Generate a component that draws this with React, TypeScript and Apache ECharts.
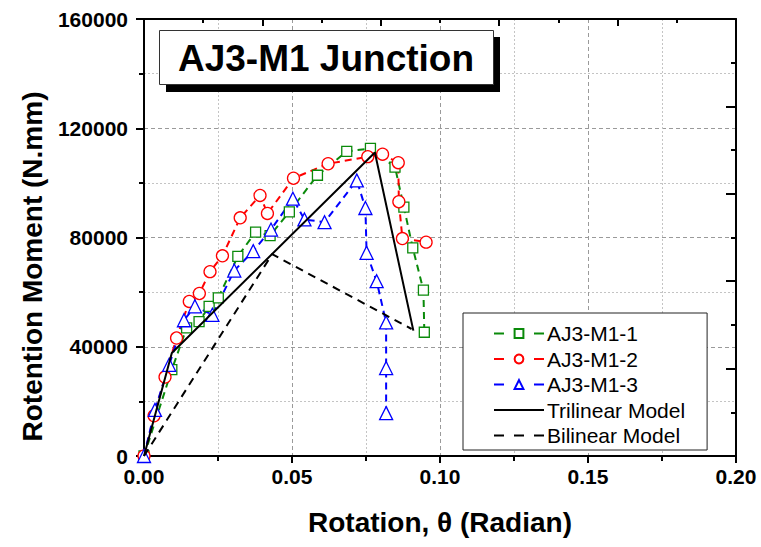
import { useEffect, useRef } from "react";
import * as echarts from "echarts";

// AJ3-M1-1 (green squares)
const m1X = [0, 0.0094, 0.0144, 0.0186, 0.022, 0.0251, 0.0317, 0.0377, 0.0426, 0.0491, 0.0586, 0.0685, 0.0765, 0.0848, 0.0878, 0.0908, 0.0944, 0.0947];
const m1Y = [0, 31600, 46900, 49200, 54800, 57900, 73100, 82000, 80700, 89400, 102800, 111500, 112600, 105800, 91100, 76200, 60700, 45300];
// AJ3-M1-2 (red circles)
const m2X = [0, 0.0034, 0.0071, 0.011, 0.0153, 0.0187, 0.0223, 0.0265, 0.0325, 0.0392, 0.0417, 0.0505, 0.0622, 0.0756, 0.0806, 0.0859, 0.0861, 0.0873, 0.0953];
const m2Y = [0, 14700, 28900, 43200, 56600, 59500, 67500, 73300, 87200, 95400, 88800, 101700, 107000, 109600, 110500, 107400, 93100, 79600, 78300];
// AJ3-M1-3 (blue triangles)
const m3X = [0, 0.0037, 0.0085, 0.0135, 0.0172, 0.0231, 0.0305, 0.0369, 0.0429, 0.0503, 0.0542, 0.061, 0.0719, 0.0748, 0.0752, 0.0786, 0.0818, 0.0818, 0.0818];
const m3Y = [0, 16900, 33400, 49700, 54800, 51700, 67900, 75000, 82900, 94200, 86600, 85600, 100900, 90800, 74400, 64000, 48900, 32200, 15700];
// Trilinear model
const triX = [0, 0.0094, 0.078, 0.091];
const triY = [0, 37700, 111100, 45900];
// Bilinear model
const biX = [0, 0.0433, 0.0904];
const biY = [0, 73900, 46500];

const seriesNames = ["AJ3-M1-1", "AJ3-M1-2", "AJ3-M1-3", "Trilinear Model", "Bilinear Model"];
const chartTitle = "AJ3-M1 Junction";
const xName = "Rotation, θ (Radian)";
const yName = "Rotention Moment (N.mm)";

const zip = (xs: number[], ys: number[]) => xs.map((x, i) => [x, ys[i]]);

const FONT = "'Liberation Sans', Arial, sans-serif";

export default function App() {
  const ref = useRef<HTMLDivElement>(null);
  useEffect(() => {
    if (!ref.current) return;
    const chart = echarts.init(ref.current, null, { renderer: "svg" });
    const majorSplit = { show: true, lineStyle: { color: "#9a9a9a", width: 1, type: [4, 3] } };
    const minorSplit = { show: true, lineStyle: { color: "#c4c4c4", width: 1, type: [2, 2] } };
    const axisLine = { show: true, onZero: false, lineStyle: { color: "#000", width: 2 } };
    const labelStyle = { color: "#000", fontSize: 21, fontWeight: "bold" as const, fontFamily: FONT };
    const nameStyle = { color: "#000", fontSize: 28, fontWeight: "bold" as const, fontFamily: FONT };
    const mkPts = (name: string, xs: number[], ys: number[], color: string, symbol: string, size: number) => ({
      name,
      type: "line",
      data: zip(xs, ys),
      symbol,
      symbolSize: size,
      showSymbol: true,
      lineStyle: { color, width: 2, type: [7, 5] },
      itemStyle: { color: "#fff", borderColor: color, borderWidth: 1.3 },
      z: 3,
    });
    chart.setOption({
      animation: false,
      backgroundColor: "#fff",
      grid: { left: 144, right: 25, top: 19, bottom: 91, containLabel: false },
      xAxis: [
        {
          type: "value",
          min: 0,
          max: 0.2,
          interval: 0.05,
          name: xName,
          nameLocation: "middle",
          nameGap: 52,
          nameTextStyle: nameStyle,
          axisLine,
          axisTick: { show: true, inside: false, length: 7, lineStyle: { color: "#000", width: 2 } },
          minorTick: { show: true, splitNumber: 2, length: 5, lineStyle: { color: "#000", width: 2 } },
          axisLabel: { ...labelStyle, margin: 10, formatter: (v: number) => v.toFixed(2) },
          splitLine: majorSplit,
          minorSplitLine: minorSplit,
        },
        {
          type: "value",
          position: "top",
          min: 0,
          max: 0.2,
          interval: 0.04,
          axisLine,
          axisTick: { show: true, inside: true, length: 7, lineStyle: { color: "#000", width: 2 } },
          minorTick: { show: true, splitNumber: 2, length: 4, lineStyle: { color: "#000", width: 2 } },
          axisLabel: { show: false },
          splitLine: { show: false },
        },
      ],
      yAxis: [
        {
          type: "value",
          min: 0,
          max: 160000,
          interval: 40000,
          name: yName,
          nameLocation: "middle",
          nameGap: 98,
          nameTextStyle: { ...nameStyle, padding: [0, 58, 0, 0] },
          axisLine,
          axisTick: { show: true, inside: false, length: 8, lineStyle: { color: "#000", width: 2 } },
          minorTick: { show: true, splitNumber: 2, length: 5, lineStyle: { color: "#000", width: 2 } },
          axisLabel: { ...labelStyle, margin: 16, formatter: (v: number) => String(v) },
          splitLine: majorSplit,
          minorSplitLine: minorSplit,
        },
        {
          type: "value",
          position: "right",
          min: 0,
          max: 160000,
          interval: 32000,
          axisLine,
          axisTick: { show: true, inside: true, length: 10, lineStyle: { color: "#000", width: 2 } },
          minorTick: { show: true, splitNumber: 2, length: 5, lineStyle: { color: "#000", width: 2 } },
          axisLabel: { show: false },
          splitLine: { show: false },
        },
      ],
      legend: {
        orient: "vertical",
        left: 463,
        top: 313,
        padding: [10, 22, 4, 30],
        itemGap: 4.5,
        itemWidth: 50,
        itemHeight: 11,
        backgroundColor: "#fff",
        borderColor: "#222",
        borderWidth: 1,
        borderRadius: 0,
        textStyle: { color: "#000", fontSize: 21, fontFamily: FONT, padding: [0, 0, 0, -2] },
        data: [
          { name: seriesNames[0], lineStyle: { type: [10, 30] } },
          { name: seriesNames[1], lineStyle: { type: [10, 30] } },
          { name: seriesNames[2], lineStyle: { type: [10, 30] } },
          { name: seriesNames[3], itemStyle: { opacity: 0 } },
          { name: seriesNames[4], itemStyle: { opacity: 0 }, lineStyle: { type: [10, 10] } },
        ],
      },
      series: [
        mkPts(seriesNames[0], m1X, m1Y, "#0a8a0a", "rect", 10),
        mkPts(seriesNames[1], m2X, m2Y, "#ff0000", "circle", 12),
        mkPts(seriesNames[2], m3X, m3Y, "#0000ff", "triangle", 13),
        {
          name: seriesNames[3],
          type: "line",
          data: zip(triX, triY),
          symbol: "none",
          lineStyle: { color: "#000", width: 2, type: "solid" },
          itemStyle: { color: "#000" },
          z: 4,
        },
        {
          name: seriesNames[4],
          type: "line",
          data: zip(biX, biY),
          symbol: "none",
          lineStyle: { color: "#000", width: 2, type: [8, 6] },
          itemStyle: { color: "#000" },
          z: 4,
        },
      ],
      graphic: [
        { type: "rect", left: 166, top: 37, shape: { width: 334, height: 55 }, style: { fill: "#000" }, z: 10 },
        { type: "rect", left: 159, top: 30, shape: { width: 334, height: 54 }, style: { fill: "#fff", stroke: "#333", lineWidth: 1 }, z: 11 },
        {
          type: "text",
          x: 326,
          y: 58,
          z: 12,
          style: {
            text: chartTitle,
            fill: "#000",
            font: `bold 37px ${FONT}`,
            align: "center",
            verticalAlign: "middle",
          },
        },
      ],
    });
    return () => chart.dispose();
  }, []);
  return <div ref={ref} style={{ position: "absolute", left: 0, top: 0, width: 761, height: 547 }} />;
}
